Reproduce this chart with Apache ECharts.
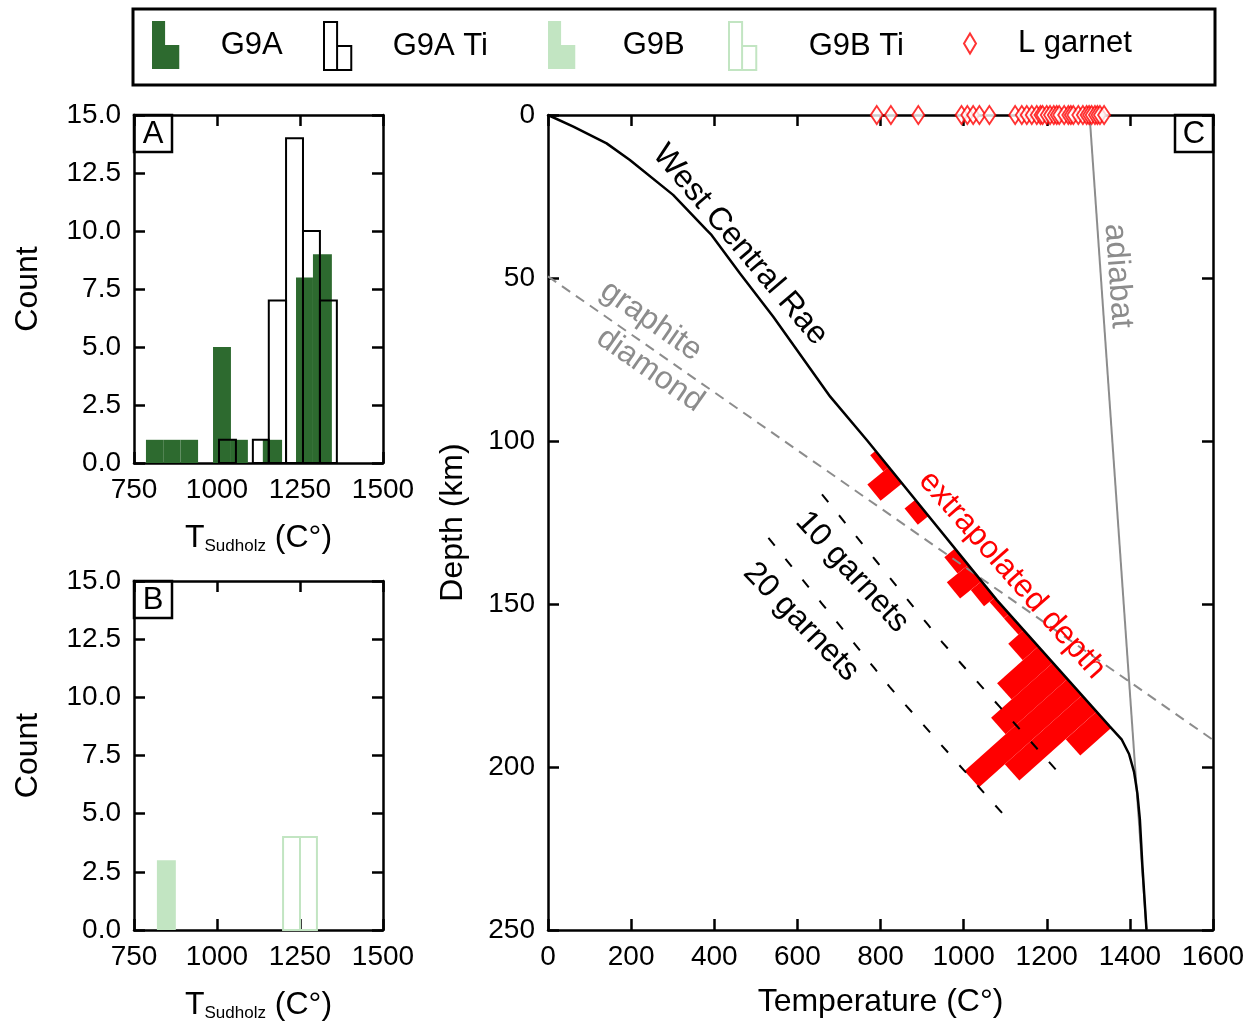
<!DOCTYPE html>
<html>
<head>
<meta charset="utf-8">
<script src="https://cdn.jsdelivr.net/npm/echarts@6/dist/echarts.min.js"></script>
<style>
  html, body { margin: 0; padding: 0; background: #fff; }
  #chart { width: 1256px; height: 1023px; }
</style>
</head>
<body>
<div id="chart"></div>
<script>
// ---- Panel A: G9A histograms (bin edges in °C, counts) ----
const g9aLo    = [786, 838, 890, 988, 1042, 1138, 1238, 1289];
const g9aHi    = [838, 890, 943, 1042, 1093, 1196, 1289, 1346];
const g9aCount = [1, 1, 1, 5, 1, 1, 8, 9];
const g9aTiLo    = [1006, 1108, 1156, 1208, 1259, 1310];
const g9aTiHi    = [1057, 1156, 1208, 1259, 1310, 1361];
const g9aTiCount = [1, 1, 7, 14, 10, 7];

// ---- Panel B: G9B histograms ----
const g9bLo    = [819];
const g9bHi    = [876];
const g9bCount = [3];
const g9bTiLo    = [1199, 1250];
const g9bTiHi    = [1250, 1301];
const g9bTiCount = [4, 4];

// ---- Panel C: West Central Rae geotherm (°C, km) ----
const geoTemp  = [0, 61, 141, 197, 301, 382, 392, 462, 542, 679, 767, 1080, 1352, 1380, 1398, 1410, 1418, 1424, 1430, 1440];
const geoDepth = [0, 3.6, 8.7, 13.8, 24.5, 35.3, 36.6, 48.6, 61.9, 86.4, 99.7, 148.8, 187.6, 191.5, 196, 201.5, 208, 216, 230, 250];

// adiabat and graphite–diamond boundary end points
const adiabatTemp = [1303, 1440];
const adiabatDepth = [0, 250];
const gdTemp = [0, 1600];
const gdDepth = [49.5, 191.7];

// L garnet temperatures (plotted at the surface)
const lGarnetT = [791, 825, 891, 995, 1009, 1023, 1038, 1062, 1124, 1140, 1152, 1164, 1176, 1185, 1190,
  1200, 1208, 1217, 1224, 1230, 1242, 1252, 1258, 1264, 1276, 1287, 1296, 1302, 1308, 1316, 1322, 1328, 1338];

// extrapolated-depth histogram: 5 km depth bins, garnet counts
const depthBinLo = [103, 108, 113, 118, 123, 128, 133, 138, 143, 148, 153, 158, 163, 168, 173, 178, 183];
const depthBinCount = [1, 4, 0, 2, 0, 0, 2, 4, 2, 1, 1, 3, 8, 12, 20, 15, 6];
const depthBinWidth = 5;
const refGarnets = [10, 20];

const FONT = '"Liberation Sans", Arial, Helvetica, sans-serif';
const GARNET_PX = 6.9;  // perpendicular length of one garnet in the rotated histogram

function geoT(d) {
  for (let i = 1; i < geoDepth.length; i++) {
    if (d <= geoDepth[i]) {
      const f = (d - geoDepth[i - 1]) / (geoDepth[i] - geoDepth[i - 1]);
      return geoTemp[i - 1] + f * (geoTemp[i] - geoTemp[i - 1]);
    }
  }
  return geoTemp[geoTemp.length - 1];
}

const zip3 = (a, b, c) => a.map((v, i) => [v, b[i], c[i]]);

function histRender(fill, stroke) {
  return function (params, api) {
    const p0 = api.coord([api.value(0), api.value(2)]);
    const p1 = api.coord([api.value(1), 0]);
    return {
      type: 'rect',
      shape: { x: p0[0], y: p0[1], width: p1[0] - p0[0], height: p1[1] - p0[1] },
      style: { fill: fill, stroke: stroke, lineWidth: stroke ? 2 : 0 }
    };
  };
}

// normal (pointing away from the geotherm, towards lower temperature) of the chord d0-d1
function chordNormal(api, d0, d1) {
  const a = api.coord([geoT(d0), d0]);
  const b = api.coord([geoT(d1), d1]);
  const ux = b[0] - a[0], uy = b[1] - a[1];
  const L = Math.hypot(ux, uy);
  return { a, b, nx: -uy / L, ny: ux / L };
}

function depthHistRender(params, api) {
  const d0 = api.value(0), c = api.value(2);
  if (!c) return null;
  const d1 = d0 + depthBinWidth;
  const g = chordNormal(api, d0, d1);
  const off = c * GARNET_PX;
  return {
    type: 'polygon',
    shape: { points: [g.a, g.b, [g.b[0] + g.nx * off, g.b[1] + g.ny * off], [g.a[0] + g.nx * off, g.a[1] + g.ny * off]] },
    style: { fill: '#ff0000' }
  };
}

function refLineRender(params, api) {
  const n = api.value(0);
  const off = n * GARNET_PX;
  const top = depthBinLo[0];
  const bot = depthBinLo[depthBinLo.length - 1] + depthBinWidth;
  const pts = [];
  for (let d = top; d <= bot + 1e-6; d += depthBinWidth) {
    const g = chordNormal(api, Math.max(top, d - depthBinWidth), Math.min(bot, d + depthBinWidth));
    const p = api.coord([geoT(d), d]);
    pts.push([p[0] + g.nx * off, p[1] + g.ny * off]);
  }
  return {
    type: 'polyline',
    shape: { points: pts },
    style: { stroke: '#000', lineWidth: 2, lineDash: [10, 17], fill: null }
  };
}

const lineStyleAxis = { color: '#000', width: 2.5 };
function axis(extra, fmt) {
  return Object.assign({
    type: 'value',
    axisLine: { show: true, onZero: false, lineStyle: lineStyleAxis },
    axisTick: { show: true, inside: true, length: 11, lineStyle: lineStyleAxis },
    splitLine: { show: false },
    axisLabel: { color: '#000', fontSize: 28, fontFamily: FONT, margin: 13, showMinLabel: true, showMaxLabel: true,
      formatter: fmt || (v => String(v)) },
    nameTextStyle: { color: '#000', fontSize: 32, fontFamily: FONT }
  }, extra);
}
function mirror(extra) {
  const a = axis(extra);
  a.axisLabel = { show: false };
  return a;
}

const subName = '{t|T}{s|Sudholz}{t| (C°)}';
const subRich = {
  t: { fontSize: 32, fontFamily: FONT, color: '#000' },
  s: { fontSize: 17, fontFamily: FONT, color: '#000', padding: [17, 0, 0, 0] }
};
const countFmt = v => v.toFixed(1);

const xA = { min: 750, max: 1500, interval: 250 };
const yA = { min: 0, max: 15, interval: 2.5 };
const xC = { min: 0, max: 1600, interval: 200 };
const yC = { min: 0, max: 250, interval: 50, inverse: true };

const legendBase = {
  orient: 'horizontal', padding: 0, selectedMode: false,
  textStyle: { color: '#000', fontSize: 31, fontFamily: FONT }
};
function legendItem(name, icon, itemStyle, left, top, w, h, gap) {
  return Object.assign({}, legendBase, {
    left: left, top: top, itemWidth: w, itemHeight: h,
    data: [{ name: name, icon: icon, itemStyle: itemStyle }],
    textStyle: Object.assign({}, legendBase.textStyle, { padding: [0, 0, 0, gap] })
  });
}
const ICON_FILLED = 'path://M0,0H12V22H25V44H0Z';
const ICON_OPEN = 'path://M0,0H12V44H0Z M12,22H25V44H12Z';

function boxLabel(txt, x, y) {
  return {
    type: 'group', x: x, y: y, z: 100,
    children: [
      { type: 'rect', shape: { x: 0, y: 0, width: 38, height: 37 }, style: { fill: '#fff', stroke: '#000', lineWidth: 2.5 } },
      { type: 'text', x: 19, y: 19, style: { text: txt, fontSize: 31, fontFamily: FONT, fill: '#000', align: 'center', verticalAlign: 'middle' } }
    ]
  };
}
// deg: clockwise angle of the text baseline, in degrees
function rotText(txt, x, y, deg, color) {
  return {
    type: 'text', x: x, y: y, rotation: -deg * Math.PI / 180, z: 100,
    style: { text: txt, fontSize: 32, fontFamily: FONT, fill: color, align: 'center', verticalAlign: 'middle' }
  };
}

const option = {
  animation: false,
  backgroundColor: '#fff',
  grid: [
    { left: 134, top: 115, width: 249, height: 348 },
    { left: 134, top: 581, width: 249, height: 349 },
    { left: 548, top: 115, width: 665, height: 815 }
  ],
  xAxis: [
    axis(Object.assign({ gridIndex: 0, position: 'bottom', name: subName, nameLocation: 'middle', nameGap: 58,
      nameTextStyle: { rich: subRich } }, xA)),
    mirror(Object.assign({ gridIndex: 0, position: 'top' }, xA)),
    axis(Object.assign({ gridIndex: 1, position: 'bottom', name: subName, nameLocation: 'middle', nameGap: 58,
      nameTextStyle: { rich: subRich } }, xA)),
    mirror(Object.assign({ gridIndex: 1, position: 'top' }, xA)),
    axis(Object.assign({ gridIndex: 2, position: 'bottom', name: 'Temperature (C°)', nameLocation: 'middle', nameGap: 56 }, xC)),
    mirror(Object.assign({ gridIndex: 2, position: 'top' }, xC))
  ],
  yAxis: [
    axis(Object.assign({ gridIndex: 0, position: 'left', name: 'Count', nameLocation: 'middle', nameGap: 90 }, yA), countFmt),
    mirror(Object.assign({ gridIndex: 0, position: 'right' }, yA)),
    axis(Object.assign({ gridIndex: 1, position: 'left', name: 'Count', nameLocation: 'middle', nameGap: 90 }, yA), countFmt),
    mirror(Object.assign({ gridIndex: 1, position: 'right' }, yA)),
    axis(Object.assign({ gridIndex: 2, position: 'left', name: 'Depth (km)', nameLocation: 'middle', nameGap: 79 }, yC)),
    mirror(Object.assign({ gridIndex: 2, position: 'right' }, yC))
  ],
  legend: [
    legendItem('G9A', ICON_FILLED, { color: '#2d6a2f', borderWidth: 0 }, 152, 21, 34, 48, 33),
    legendItem('G9A Ti', ICON_OPEN, { color: 'rgba(0,0,0,0)', borderColor: '#000', borderWidth: 2 }, 323, 21, 34, 48, 33),
    legendItem('G9B', ICON_FILLED, { color: '#c2e5c2', borderWidth: 0 }, 548, 21, 34, 48, 39),
    legendItem('G9B Ti', ICON_OPEN, { color: 'rgba(0,0,0,0)', borderColor: '#c2e5c2', borderWidth: 2 }, 728, 21, 34, 48, 44),
    legendItem('L garnet', 'diamond', { color: '#fff', borderColor: '#ff0000', borderWidth: 2 }, 963, 28, 12, 20, 37)
  ],
  graphic: [
    { type: 'rect', shape: { x: 133, y: 9, width: 1082, height: 76 }, style: { fill: 'none', stroke: '#000', lineWidth: 3 }, z: 100 },
    boxLabel('A', 134, 115),
    boxLabel('B', 134, 581),
    boxLabel('C', 1175, 115),
    rotText('West Central Rae', 740, 245, 49.6, '#000'),
    rotText('graphite', 651, 321, 35, '#8c8c8c'),
    rotText('diamond', 650, 370, 35, '#8c8c8c'),
    rotText('extrapolated depth', 1012, 575, 48.6, '#ff0000'),
    rotText('adiabat', 1118, 276, 86, '#8c8c8c'),
    rotText('10 garnets', 852, 572, 47.5, '#000'),
    rotText('20 garnets', 801, 622, 46, '#000')
  ],
  series: [
    { name: 'G9A', type: 'custom', xAxisIndex: 0, yAxisIndex: 0, z: 2,
      itemStyle: { color: '#2d6a2f' },
      data: zip3(g9aLo, g9aHi, g9aCount), renderItem: histRender('#2d6a2f', null) },
    { name: 'G9A Ti', type: 'custom', xAxisIndex: 0, yAxisIndex: 0, z: 3,
      itemStyle: { color: '#000' },
      data: zip3(g9aTiLo, g9aTiHi, g9aTiCount), renderItem: histRender('none', '#000') },
    { name: 'G9B', type: 'custom', xAxisIndex: 2, yAxisIndex: 2, z: 2,
      itemStyle: { color: '#c2e5c2' },
      data: zip3(g9bLo, g9bHi, g9bCount), renderItem: histRender('#c2e5c2', null) },
    { name: 'G9B Ti', type: 'custom', xAxisIndex: 2, yAxisIndex: 2, z: 3,
      itemStyle: { color: '#c2e5c2' },
      data: zip3(g9bTiLo, g9bTiHi, g9bTiCount), renderItem: histRender('none', '#c2e5c2') },
    { name: 'extrapolated depth', type: 'custom', xAxisIndex: 4, yAxisIndex: 4, z: 2, clip: false,
      data: depthBinLo.map((d, i) => [d, d + depthBinWidth, depthBinCount[i]]),
      renderItem: depthHistRender },
    { name: 'garnet scale', type: 'custom', xAxisIndex: 4, yAxisIndex: 4, z: 3, clip: false,
      data: refGarnets.map(n => [n]), renderItem: refLineRender },
    { name: 'graphite-diamond', type: 'line', xAxisIndex: 4, yAxisIndex: 4, z: 4, symbol: 'none',
      lineStyle: { color: '#8c8c8c', width: 2, type: [10, 7] },
      data: gdTemp.map((t, i) => [t, gdDepth[i]]) },
    { name: 'adiabat', type: 'line', xAxisIndex: 4, yAxisIndex: 4, z: 4, symbol: 'none',
      lineStyle: { color: '#8c8c8c', width: 2 },
      data: adiabatTemp.map((t, i) => [t, adiabatDepth[i]]) },
    { name: 'West Central Rae', type: 'line', xAxisIndex: 4, yAxisIndex: 4, z: 5, symbol: 'none',
      lineStyle: { color: '#000', width: 2.5 },
      data: geoTemp.map((t, i) => [t, geoDepth[i]]) },
    { name: 'L garnet', type: 'scatter', xAxisIndex: 4, yAxisIndex: 4, z: 6, clip: false,
      symbol: 'diamond', symbolSize: [12, 18],
      itemStyle: { color: '#fff', borderColor: '#ff0000', borderWidth: 2 },
      data: lGarnetT.map(t => [t, 0]) }
  ]
};

const chart = echarts.init(document.getElementById('chart'), null, { renderer: 'canvas' });
chart.setOption(option);
</script>
</body>
</html>
